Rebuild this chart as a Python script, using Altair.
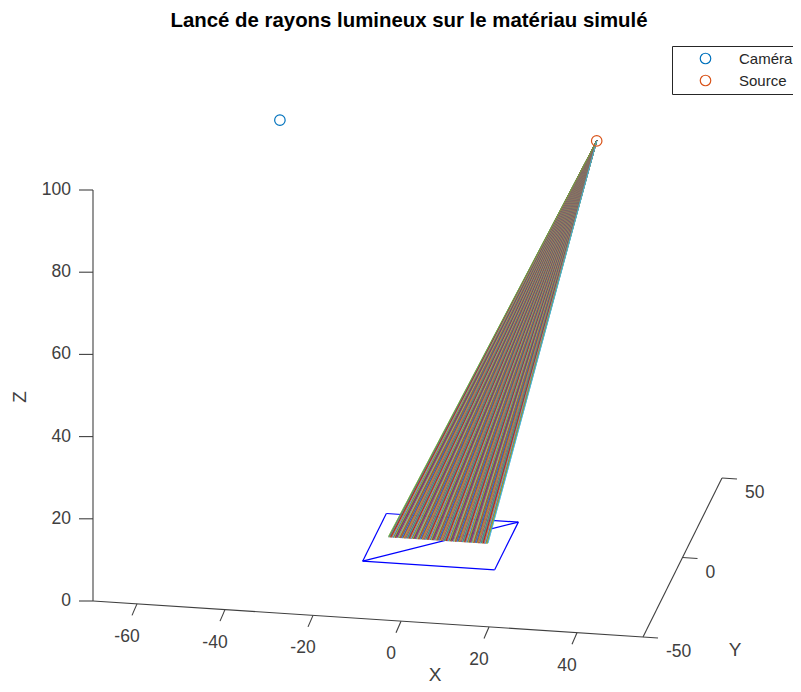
import altair as alt
import pandas as pd

TITLE = "Lancé de rayons lumineux sur le matériau simulé"
FONT = "Liberation Sans"
INK = "#404040"

camera = [-36.5, 0, 100]
source = [35.5, 0, 100]
square_x = [-15, 15, 15, -15, -15, 15]
square_y = [-15, -15, 15, 15, -15, 15]
ray_row_y = [0.6, 1.0]
ray_end_x = [
    -12.0, -11.8, -11.6, -11.4, -11.2, -11.0, -10.8, -10.6, -10.4, -10.2,
    -10.0, -9.8, -9.6, -9.4, -9.2, -9.0, -8.8, -8.6, -8.4, -8.2,
    -8.0, -7.8, -7.6, -7.4, -7.2, -7.0, -6.8, -6.6, -6.4, -6.2,
    -6.0, -5.8, -5.6, -5.4, -5.2, -5.0, -4.8, -4.6, -4.4, -4.2,
    -4.0, -3.8, -3.6, -3.4, -3.2, -3.0, -2.8, -2.6, -2.4, -2.2,
    -2.0, -1.8, -1.6, -1.4, -1.2, -1.0, -0.8, -0.6, -0.4, -0.2,
    0.0, 0.2, 0.4, 0.6, 0.8, 1.0, 1.2, 1.4, 1.6, 1.8,
    2.0, 2.2, 2.4, 2.6, 2.8, 3.0, 3.2, 3.4, 3.6, 3.8,
    4.0, 4.2, 4.4, 4.6, 4.8, 5.0, 5.2, 5.4, 5.6, 5.8,
    6.0, 6.2, 6.4, 6.6, 6.8, 7.0, 7.2, 7.4, 7.6, 7.8,
    8.0, 8.2, 8.4, 8.6, 8.8, 9.0, 9.2, 9.4, 9.6, 9.8,
    10.0, 10.2, 10.4, 10.6,
]
ray_back_x = [
    -11.85, -11.7, -11.55, -11.4, -11.25, -11.1, -10.95, -10.8, -10.65, -10.5,
    -10.35, -10.2, -10.05, -9.9, -9.75, -9.6, -9.45, -9.3, -9.15, -9.0,
    -8.85, -8.7, -8.55, -8.4, -8.25, -8.1, -7.95, -7.8, -7.65, -7.5,
    -7.35, -7.2, -7.05, -6.9, -6.75, -6.6, -6.45, -6.3, -6.15, -6.0,
    -5.85, -5.7, -5.55, -5.4, -5.25, -5.1, -4.95, -4.8, -4.65, -4.5,
    -4.35, -4.2, -4.05, -3.9, -3.75, -3.6, -3.45, -3.3, -3.15, -3.0,
    -2.85, -2.7, -2.55, -2.4, -2.25, -2.1, -1.95, -1.8, -1.65, -1.5,
    -1.35, -1.2, -1.05, -0.9, -0.75, -0.6, -0.45, -0.3, -0.15, 0.0,
    0.15, 0.3, 0.45, 0.6, 0.75, 0.9, 1.05, 1.2, 1.35, 1.5,
    1.65, 1.8, 1.95, 2.1, 2.25, 2.4, 2.55, 2.7, 2.85, 3.0,
    3.15, 3.3, 3.45, 3.6, 3.75, 3.9, 4.05, 4.2, 4.35, 4.5,
    4.65, 4.8, 4.95, 5.1, 5.25, 5.4, 5.55, 5.7, 5.85, 6.0,
    6.15, 6.3, 6.45, 6.6, 6.75, 6.9, 7.05, 7.2, 7.35, 7.5,
    7.65, 7.8, 7.95, 8.1, 8.25, 8.4, 8.55, 8.7, 8.85, 9.0,
    9.15, 9.3, 9.45, 9.6, 9.75, 9.9, 10.05, 10.2, 10.35, 10.5,
]
ray_colors = ["#77AC30", "#4DBEEE", "#A2142F", "#0072BD", "#D95319", "#EDB120", "#7E2F8E"]
edge_left_color = "#77AC30"
edge_right_color = "#4DBEEE"

x_ticks = [-60, -40, -20, 0, 20, 40]
y_ticks = [-50, 0, 50]
z_ticks = [0, 20, 40, 60, 80, 100]
x_range = [-70, 55]
y_range = [-50, 50]
z_range = [0, 100]


def project(x, y, z):
    u, v = x + 70, y + 50
    return 93 + 4.4 * u + 0.79 * v, 601 + 0.288 * u - 1.59 * v - 4.11 * z


def seg(p, q, color="#404040"):
    a, b = project(*p), project(*q)
    return {"x": a[0], "y": a[1], "x2": b[0], "y2": b[1], "c": color}


axes = [
    seg((x_range[0], y_range[0], 0), (x_range[1], y_range[0], 0)),
    seg((x_range[1], y_range[0], 0), (x_range[1], y_range[1], 0)),
    seg((x_range[0], y_range[0], z_range[0]), (x_range[0], y_range[0], z_range[1])),
]
ticks = []
labels = []
for t in x_ticks:
    a = project(t, y_range[0], 0)
    ticks.append({"x": a[0], "y": a[1], "x2": a[0] - 5, "y2": a[1] + 11.5, "c": INK})
    labels.append({"x": a[0] - 10, "y": a[1] + 33, "t": str(t)})
for t in y_ticks:
    a = project(x_range[1], t, 0)
    ticks.append({"x": a[0], "y": a[1], "x2": a[0] + 15, "y2": a[1] + 1, "c": INK})
for t in z_ticks:
    a = project(x_range[0], y_range[0], t)
    ticks.append({"x": a[0], "y": a[1], "x2": a[0] - 14, "y2": a[1], "c": INK})

y_labels = []
for t in y_ticks:
    a = project(x_range[1], t, 0)
    y_labels.append({"x": a[0] + 23, "y": a[1] + 15, "t": str(t)})
z_labels = []
for t in z_ticks:
    a = project(x_range[0], y_range[0], t)
    z_labels.append({"x": a[0] - 22, "y": a[1], "t": str(t)})

quad = [
    seg((square_x[i], square_y[i], 0), (square_x[i + 1], square_y[i + 1], 0), "#0000FF")
    for i in range(len(square_x) - 1)
]
rays_back = [
    seg(source, (rx, ray_row_y[0], 0), ray_colors[(i * 2 + 3) % len(ray_colors)])
    for i, rx in enumerate(ray_back_x)
]
rays_front = [
    seg(source, (rx, ray_row_y[1], 0), ray_colors[(i * 3) % len(ray_colors)])
    for i, rx in enumerate(ray_end_x)
]
rays_edge = [
    seg(source, (ray_end_x[0], ray_row_y[1], 0), edge_left_color),
    seg(source, (ray_end_x[-1], ray_row_y[1], 0), edge_right_color),
]
points = []
for name, p in (("Caméra", camera), ("Source", source)):
    a = project(*p)
    points.append({"x": a[0], "y": a[1], "name": name})

X = alt.X("x:Q", axis=None, scale=alt.Scale(domain=[8, 793], nice=False, zero=False))
Y = alt.Y("y:Q", axis=None, scale=alt.Scale(domain=[8, 684], nice=False, zero=False, reverse=True))


def rules(rows, width, opacity=1.0):
    return (
        alt.Chart(pd.DataFrame(rows))
        .mark_rule(strokeWidth=width, opacity=opacity)
        .encode(X, Y, x2="x2:Q", y2="y2:Q", color=alt.Color("c:N", scale=None, legend=None))
    )


def texts(rows, align, size=17.5, color=INK, **kw):
    return (
        alt.Chart(pd.DataFrame(rows))
        .mark_text(align=align, baseline="middle", font=FONT, fontSize=size, color=color, **kw)
        .encode(X, Y, text="t:N")
    )


pts = (
    alt.Chart(pd.DataFrame(points))
    .mark_point(shape="circle", filled=False, size=110, strokeWidth=1.2, opacity=1)
    .encode(
        X,
        Y,
        color=alt.Color(
            "name:N",
            scale=alt.Scale(domain=["Caméra", "Source"], range=["#0072BD", "#D95319"]),
            legend=alt.Legend(
                title=None,
                orient="none",
                legendX=664,
                legendY=38,
                fillColor="white",
                strokeColor="#262626",
                padding=5,
                symbolType="circle",
                symbolSize=110,
                symbolStrokeWidth=1.2,
                symbolOffset=21,
                labelOffset=26,
                labelFont=FONT,
                labelFontSize=15,
                labelColor="#262626",
                rowPadding=5,
            ),
        ),
    )
)

chart = (
    alt.layer(
        rules(axes, 1.1),
        rules(ticks, 1.1),
        rules(quad, 1.2),
        rules(rays_back, 1.0),
        rules(rays_front, 0.5),
        rules(rays_edge, 0.8),
        pts,
        texts(labels, "center"),
        texts(y_labels, "left"),
        texts(z_labels, "right"),
        texts([{"x": 435, "y": 675, "t": "X"}], "center", 19),
        texts([{"x": 735, "y": 650, "t": "Y"}], "center", 19),
        texts([{"x": 20, "y": 397, "t": "Z"}], "center", 19, angle=270),
        texts([{"x": 409, "y": 21, "t": TITLE}], "center", 20.4, "#000000", fontWeight="bold"),
    )
    .resolve_scale(color="independent")
    .properties(
        width=785,
        height=676,
        padding=0,
        autosize=alt.AutoSizeParams(type="none"),
    )
    .configure_view(stroke=None)
)

chart.save("out.html", embed_options={"renderer": "svg", "actions": False})
